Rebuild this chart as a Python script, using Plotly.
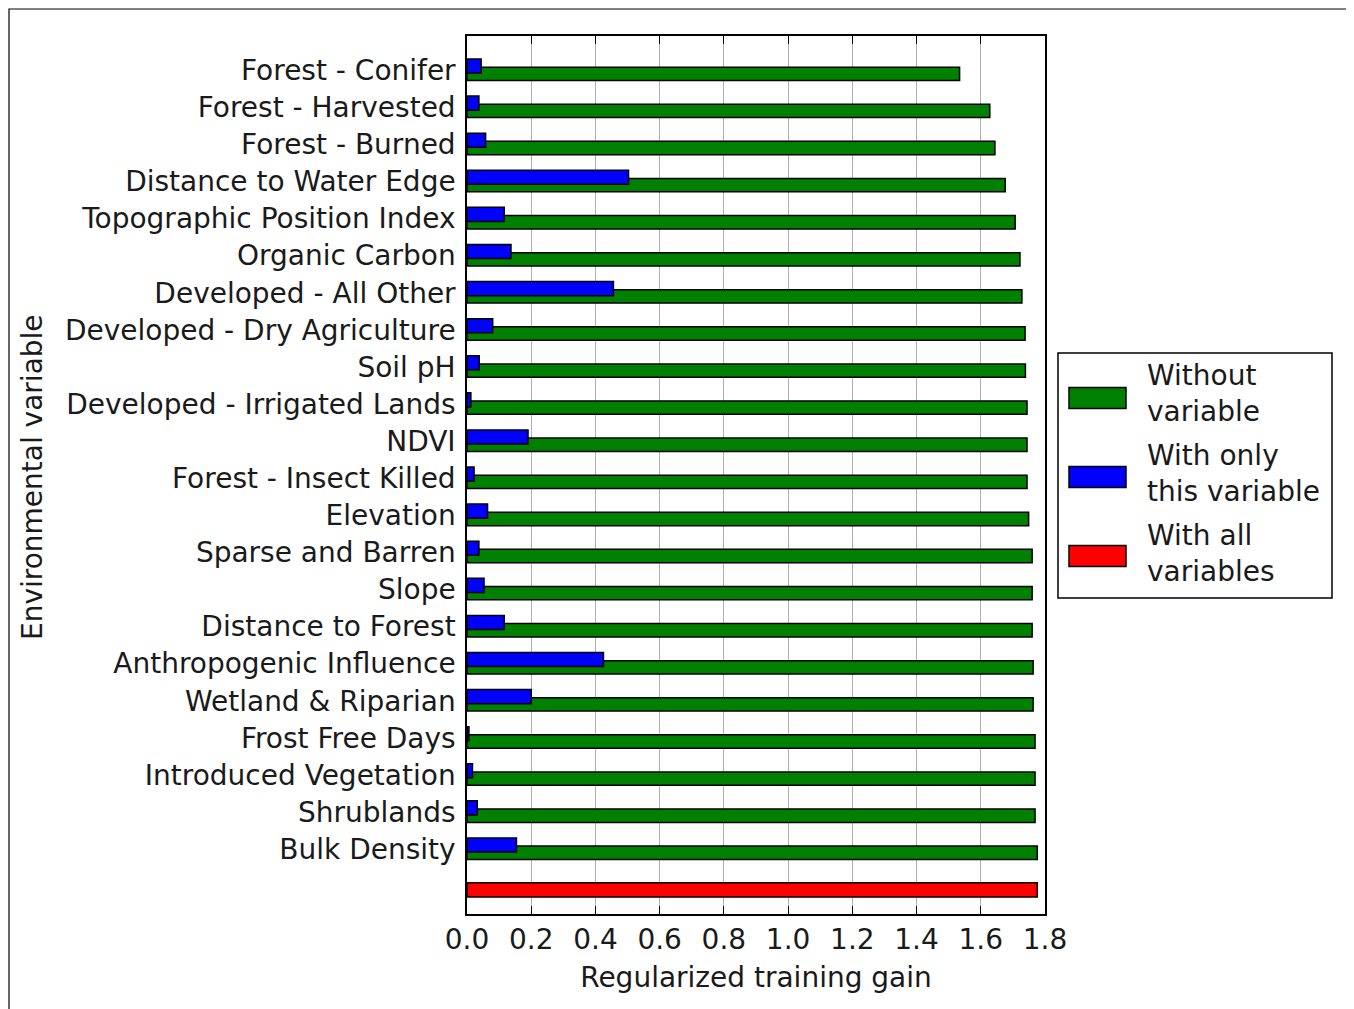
import plotly.graph_objects as go

variables = [
    "Forest - Conifer", "Forest - Harvested", "Forest - Burned", "Distance to Water Edge",
    "Topographic Position Index", "Organic Carbon", "Developed - All Other",
    "Developed - Dry Agriculture", "Soil pH", "Developed - Irrigated Lands", "NDVI",
    "Forest - Insect Killed", "Elevation", "Sparse and Barren", "Slope",
    "Distance to Forest", "Anthropogenic Influence", "Wetland & Riparian",
    "Frost Free Days", "Introduced Vegetation", "Shrublands", "Bulk Density",
]
without_variable = [
    1.534, 1.628, 1.644, 1.676, 1.707, 1.722, 1.728, 1.738, 1.739, 1.744, 1.744,
    1.744, 1.749, 1.760, 1.760, 1.760, 1.763, 1.763, 1.769, 1.769, 1.769, 1.776,
]
with_only_variable = [
    0.044, 0.037, 0.058, 0.503, 0.116, 0.137, 0.456, 0.080, 0.038, 0.012, 0.190,
    0.022, 0.064, 0.037, 0.053, 0.116, 0.425, 0.200, 0.006, 0.017, 0.032, 0.154,
]
with_all_variables = 1.776
legend_labels = ["Without<br>variable", "With only<br>this variable", "With all<br>variables"]
colors = ["#008000", "#0000ff", "#ff0000"]
x_ticks = [0.0, 0.2, 0.4, 0.6, 0.8, 1.0, 1.2, 1.4, 1.6, 1.8]

FONT = "DejaVu Sans"
FS = 28
n = len(variables)
pos_green = list(range(n))
pos_blue = [p - 0.21 for p in pos_green]
pos_tick = [p - 0.1 for p in pos_green]

fig = go.Figure()
fig.add_trace(go.Bar(orientation="h", x=without_variable, y=pos_green, width=0.36,
                     marker=dict(color=colors[0], line=dict(color="black", width=1.5)),
                     showlegend=False, hoverinfo="x"))
fig.add_trace(go.Bar(orientation="h", x=with_only_variable, y=pos_blue, width=0.38,
                     marker=dict(color=colors[1], line=dict(color="black", width=1.5)),
                     showlegend=False, hoverinfo="x"))
fig.add_trace(go.Bar(orientation="h", x=[with_all_variables], y=[n], width=0.38,
                     marker=dict(color=colors[2], line=dict(color="black", width=1.5)),
                     showlegend=False, hoverinfo="x"))

# page offset (body margin) so that page pixels match the reference
OFF = 8
W, H = 1346, 1001
PL, PR, PT, PB = 467, 1045, 36, 914  # plot area in page pixels
L, R, T, B = PL - OFF, OFF + W - PR, PT - OFF, OFF + H - PB
pw, ph = W - L - R, H - T - B

def px(x):
    return (x - PL) / pw

def py(y):
    return (PB - y) / ph

shapes = []
annotations = []
# outer frame
shapes.append(dict(type="rect", xref="paper", yref="paper", x0=px(9), x1=px(1347),
                   y0=py(1030), y1=py(9), line=dict(color="black", width=1.2), layer="below"))
# legend box
shapes.append(dict(type="rect", xref="paper", yref="paper", x0=px(1058), x1=px(1332),
                   y0=py(598), y1=py(353), line=dict(color="black", width=1.5),
                   fillcolor="white"))
sw_centers = [398, 477, 556]
txt_centers = [393, 473, 553]
for lab, col, sc, tc in zip(legend_labels, colors, sw_centers, txt_centers):
    shapes.append(dict(type="rect", xref="paper", yref="paper", x0=px(1069), x1=px(1126),
                       y0=py(sc + 10.5), y1=py(sc - 10.5), fillcolor=col,
                       line=dict(color="black", width=1.5)))
    annotations.append(dict(text=lab, xref="paper", yref="paper", x=px(1145), y=py(tc),
                            xanchor="left", yanchor="middle", align="left", showarrow=False,
                            font=dict(family=FONT, size=FS, color="#1a1a1a")))
# y axis title
annotations.append(dict(text="Environmental variable", xref="paper", yref="paper",
                        x=px(32), y=py(477), textangle=-90, xanchor="center",
                        yanchor="middle", showarrow=False,
                        font=dict(family=FONT, size=FS, color="#1a1a1a")))

fig.update_layout(
    width=W, height=H,
    margin=dict(l=L, r=R, t=T, b=B),
    paper_bgcolor="white", plot_bgcolor="white",
    barmode="overlay",
    font=dict(family=FONT, size=FS, color="#1a1a1a"),
    shapes=shapes, annotations=annotations,
    xaxis=dict(range=[0, 1.8], tickvals=x_ticks, tickformat=".1f",
               ticks="inside", ticklen=8, tickcolor="black", tickwidth=1.2,
               showline=True, linecolor="black", linewidth=1.5, mirror="ticks",
               showgrid=True, gridcolor="#b0b0b0", gridwidth=1, zeroline=False,
               ticklabelstandoff=0,
               title=dict(text="Regularized training gain", standoff=12,
                          font=dict(family=FONT, size=FS))),
    yaxis=dict(range=[22.65, -1.02], tickvals=pos_tick, ticktext=variables,
               ticks="", showline=True, linecolor="black", linewidth=1.5, mirror=True,
               showgrid=False, zeroline=False, ticklabelstandoff=4),
)

fig.write_html("out.html")
